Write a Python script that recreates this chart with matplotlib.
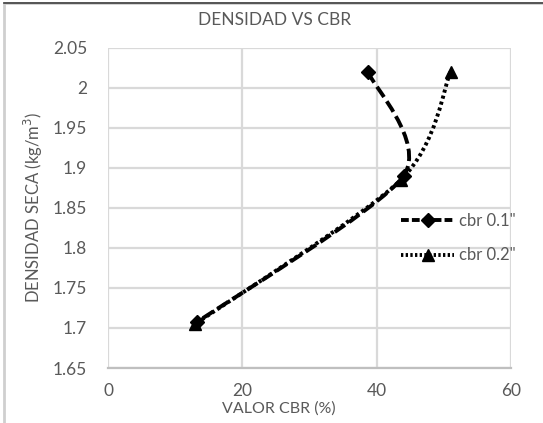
import matplotlib
matplotlib.use("Agg")
import matplotlib.pyplot as plt
from matplotlib.path import Path
from matplotlib.patches import PathPatch, Rectangle
from matplotlib.lines import Line2D
import numpy as np

title = "DENSIDAD VS CBR"
xlabel = "VALOR CBR (%)"
ylabel = "DENSIDAD SECA (kg/m$^3$)"
series_names = ['cbr 0.1"', 'cbr 0.2"']
cbr01_x = [38.7, 44.0, 13.2]
cbr01_y = [2.02, 1.89, 1.707]
cbr02_x = [51.0, 43.6, 13.0]
cbr02_y = [2.02, 1.885, 1.705]
xticks = [0, 20, 40, 60]
yticks = [1.65, 1.7, 1.75, 1.8, 1.85, 1.9, 1.95, 2.0, 2.05]
ytick_labels = ["1.65", "1.7", "1.75", "1.8", "1.85", "1.9", "1.95", "2", "2.05"]

TXT = "#595959"
plt.rcParams['font.family'] = ['Lato', 'DejaVu Sans']

fig = plt.figure(figsize=(5.43, 4.23), dpi=100)
ax = fig.add_axes([0.199, 0.130, 0.742, 0.757])

def smooth_path(xs, ys, k=6.0):
    P = np.column_stack([xs, ys])
    n = len(P)
    verts = [P[0]]
    codes = [Path.MOVETO]
    for i in range(n - 1):
        p0 = P[i - 1] if i > 0 else P[i]
        p1 = P[i]
        p2 = P[i + 1]
        p3 = P[i + 2] if i + 2 < n else P[i + 1]
        c1 = p1 + (p2 - p0) / k
        c2 = p2 - (p3 - p1) / k
        verts += [c1, c2, p2]
        codes += [Path.CURVE4] * 3
    return Path(verts, codes)

ax.add_patch(PathPatch(smooth_path(cbr01_x, cbr01_y, 7.5), fill=False, edgecolor='black',
                       lw=2.8, linestyle=(0, (3.2, 1.3)), zorder=3))
ax.add_patch(PathPatch(smooth_path(cbr02_x, cbr02_y, 7.0), fill=False, edgecolor='black',
                       lw=2.8, linestyle=(0, (0.8, 0.8)), zorder=3))
ax.plot(cbr01_x, cbr01_y, linestyle='none', marker='D', ms=7, color='black', zorder=4)
ax.plot(cbr02_x, cbr02_y, linestyle='none', marker='^', ms=8, color='black', zorder=4)

ax.set_xlim(0, 60)
ax.set_ylim(1.65, 2.05)
ax.set_xticks(xticks)
ax.set_yticks(yticks)
ax.set_yticklabels(ytick_labels)
ax.grid(True, color='#d9d9d9', lw=1.6)
ax.set_axisbelow(True)
for s in ['top', 'right', 'left']:
    ax.spines[s].set_visible(False)
ax.spines['bottom'].set_color('#bfbfbf')
ax.spines['bottom'].set_linewidth(1.6)
ax.tick_params(axis='y', length=0, labelsize=12.5, colors=TXT, pad=15)
ax.tick_params(axis='x', length=0, labelsize=12.5, colors=TXT, pad=11)
fig.text(0.505, 0.952, title, fontsize=12.5, color=TXT, ha='center', va='center')
fig.text(0.513, 0.035, xlabel, fontsize=11.5, color=TXT, ha='center', va='center')
ax.set_ylabel(ylabel, fontsize=12, color=TXT, labelpad=6)

handles = [
    Line2D([0], [0], color='black', lw=2.8, linestyle=(0, (2.0, 0.8)), marker='D', ms=7),
    Line2D([0], [0], color='black', lw=2.8, linestyle=(0, (0.6, 0.6)), marker='^', ms=8),
]
leg = ax.legend(handles, series_names, loc='center left', bbox_to_anchor=(0.69, 0.405),
                frameon=False, fontsize=12, handlelength=3.2, handletextpad=0.3,
                labelspacing=1.1, labelcolor=TXT)

fig.add_artist(Rectangle((0.007, -0.01), 1.2, 1.003, transform=fig.transFigure,
                         fill=False, edgecolor='#cfcfcf', lw=2))
fig.add_artist(Line2D([0.007, 1.0], [0.993, 0.993], transform=fig.transFigure,
                      color='#404040', lw=1.2))

fig.savefig("out.png", dpi=100)
